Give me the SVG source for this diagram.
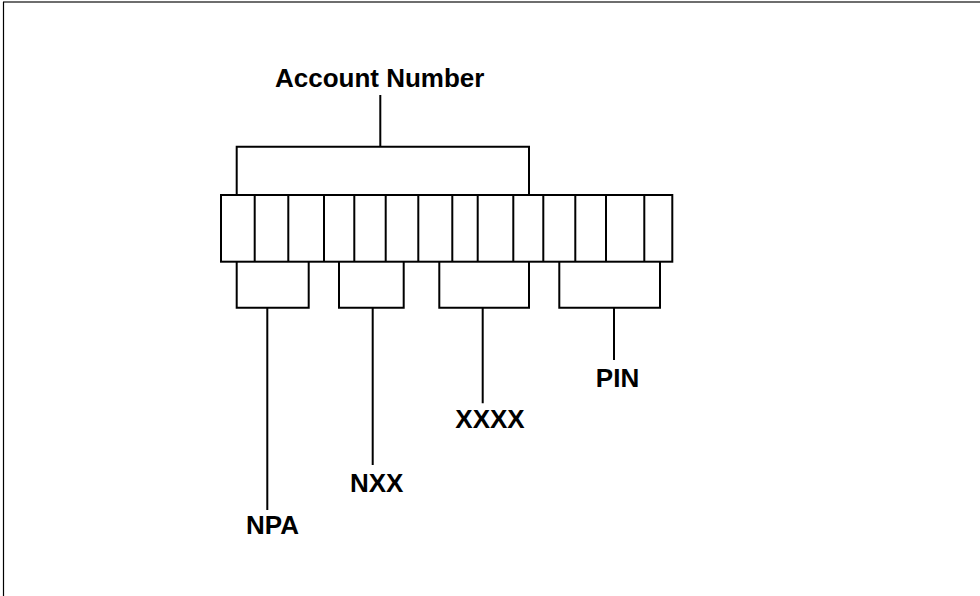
<svg xmlns="http://www.w3.org/2000/svg" width="980" height="596" viewBox="0 0 980 596">
<style>
.ln{stroke:#000;stroke-width:2;fill:none}
.cell{stroke:#000;stroke-width:2;fill:#fff}
.lbl{font-family:"Liberation Sans",Arial,sans-serif;font-weight:bold;font-size:26px;fill:#000}
</style>
<rect width="980" height="596" fill="#fff"/>
<g id="frame">
<line x1="3" y1="2" x2="980" y2="2" stroke="#6e6e6e" stroke-width="2"/>
<line x1="3.5" y1="2" x2="3.5" y2="596" stroke="#000" stroke-width="1.2"/>
</g>
<g id="cells">
<rect class="cell" x="221" y="195" width="451.3" height="66.7"/>
<path class="ln" d="M254.7 195V261.7M288.3 195V261.7M324 195V261.7M354.3 195V261.7M385.7 195V261.7M418.3 195V261.7M452.3 195V261.7M477.7 195V261.7M513.3 195V261.7M543.3 195V261.7M575.3 195V261.7M606 195V261.7M644.3 195V261.7"/>
</g>
<g id="connectors">
<path class="ln" d="M236.7 195V146.7H529V195M380.3 146.7V95"/>
<path class="ln" d="M236.7 261.7V307.7H308.7V261.7M267.3 307.7V510"/>
<path class="ln" d="M339 261.7V307.7H403.7V261.7M372.7 307.7V465"/>
<path class="ln" d="M439.3 261.7V307.7H529V261.7M482.7 307.7V403.3"/>
<path class="ln" d="M559.3 261.7V307.7H660V261.7M614 307.7V360"/>
</g>
<g id="account-number"><text class="lbl" x="379.7" y="86.7" text-anchor="middle">Account Number</text></g>
<g id="npa"><text class="lbl" x="272.5" y="534" text-anchor="middle">NPA</text></g>
<g id="nxx"><text class="lbl" x="376.7" y="492.3" text-anchor="middle">NXX</text></g>
<g id="xxxx"><text class="lbl" x="490" y="428.3" text-anchor="middle">XXXX</text></g>
<g id="pin"><text class="lbl" x="617.5" y="387.3" text-anchor="middle">PIN</text></g>
</svg>
